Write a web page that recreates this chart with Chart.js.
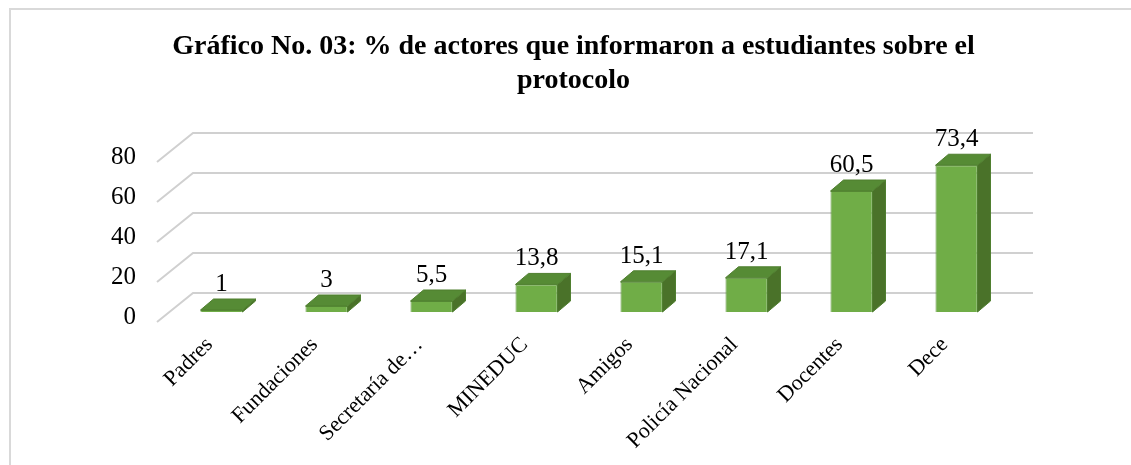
<!DOCTYPE html>
<html>
<head>
<meta charset="utf-8">
<script src="https://cdn.jsdelivr.net/npm/chart.js@4.4.0/dist/chart.umd.min.js"></script>
<style>
    html, body { margin: 0; padding: 0; background: #fff; }
    #wrap { position: relative; width: 1131px; height: 465px; overflow: hidden; }
    #frame {
        position: absolute; left: 9px; top: 8px;
        width: 1200px; height: 600px;
        border: 2px solid #d9d9d9; box-sizing: border-box;
    }
    #chart { position: absolute; left: 0; top: 0; }
</style>
</head>
<body>
<div id="wrap">
    <div id="frame"></div>
    <canvas id="chart" width="1131" height="465"></canvas>
</div>
<script>
/* ========================================
   Gráfico No. 03 - 3D bar chart look
   ======================================== */

const titleLines = ['Gráfico No. 03: % de actores que informaron a estudiantes sobre el', 'protocolo'];
const categories = ['Padres', 'Fundaciones', 'Secretaría de…', 'MINEDUC', 'Amigos', 'Policía Nacional', 'Docentes', 'Dece'];
const values = [1, 3, 5.5, 13.8, 15.1, 17.1, 60.5, 73.4];
const valueLabels = ['1', '3', '5,5', '13,8', '15,1', '17,1', '60,5', '73,4'];
const yTicks = [0, 20, 40, 60, 80];

const SERIF = '"Liberation Serif", "Times New Roman", serif';

// depth offsets (px) for the fake 3D walls and bar faces
const WALL_FRONT = { dx: -12, dy: 10 };
const WALL_BACK = { dx: 24, dy: -19 };
const BAR_DEPTH = { dx: 13, dy: -11 };

const threeD = {
    id: 'threeD',
    beforeDatasetsDraw(chart) {
        const { ctx, chartArea, scales } = chart;
        const y = scales.y;
        ctx.save();
        ctx.strokeStyle = '#d0d0d0';
        ctx.lineWidth = 2;
        yTicks.forEach(t => {
            const py = y.getPixelForValue(t);
            ctx.beginPath();
            ctx.moveTo(chartArea.left + WALL_FRONT.dx, py + WALL_FRONT.dy);
            ctx.lineTo(chartArea.left + WALL_BACK.dx, py + WALL_BACK.dy);
            ctx.lineTo(chartArea.right + WALL_BACK.dx, py + WALL_BACK.dy);
            ctx.stroke();
        });
        ctx.restore();
    },
    afterDatasetsDraw(chart) {
        const { ctx } = chart;
        const meta = chart.getDatasetMeta(0);
        ctx.save();
        ctx.lineWidth = 1;
        ctx.strokeStyle = '#4f7f2f';
        meta.data.forEach((bar, i) => {
            const l = bar.x - bar.width / 2;
            const r = bar.x + bar.width / 2;
            const top = bar.y;
            const base = bar.base;
            // side face
            ctx.fillStyle = '#4a7229';
            ctx.beginPath();
            ctx.moveTo(r, top);
            ctx.lineTo(r + BAR_DEPTH.dx, top + BAR_DEPTH.dy);
            ctx.lineTo(r + BAR_DEPTH.dx, base + BAR_DEPTH.dy);
            ctx.lineTo(r, base);
            ctx.closePath();
            ctx.fill();
            ctx.stroke();
            // top face
            ctx.fillStyle = '#568b35';
            ctx.beginPath();
            ctx.moveTo(l, top);
            ctx.lineTo(l + BAR_DEPTH.dx, top + BAR_DEPTH.dy);
            ctx.lineTo(r + BAR_DEPTH.dx, top + BAR_DEPTH.dy);
            ctx.lineTo(r, top);
            ctx.closePath();
            ctx.fill();
            ctx.stroke();
            // value label
            ctx.fillStyle = '#000';
            ctx.font = '25px ' + SERIF;
            ctx.textAlign = 'center';
            ctx.textBaseline = 'alphabetic';
            ctx.fillText(valueLabels[i], bar.x, top - 19);
        });
        ctx.restore();
    }
};

new Chart(document.getElementById('chart'), {
    type: 'bar',
    data: {
        labels: categories,
        datasets: [{
            data: values,
            backgroundColor: '#70ad47',
            borderColor: '#5b9139',
            borderWidth: 1,
            barPercentage: 0.4,
            categoryPercentage: 1
        }]
    },
    options: {
        responsive: false,
        animation: false,
        layout: { padding: { left: 16, right: 0, top: 0, bottom: 0 } },
        plugins: {
            legend: { display: false },
            tooltip: { enabled: false },
            title: {
                display: true,
                text: titleLines,
                color: '#000',
                font: { family: SERIF, size: 28, weight: 'bold', lineHeight: 1.215 },
                padding: { top: 30, bottom: 54 }
            }
        },
        scales: {
            x: {
                grid: { display: false, drawTicks: false },
                border: { display: false },
                ticks: {
                    color: '#000',
                    font: { family: SERIF, size: 22 },
                    minRotation: 45,
                    maxRotation: 45,
                    autoSkip: false,
                    padding: 20,
                    labelOffset: -12
                },
                afterFit: s => { s.height = 153; }
            },
            y: {
                min: 0,
                max: 80,
                grid: { display: false, drawTicks: false },
                border: { display: false },
                ticks: {
                    stepSize: 20,
                    color: '#000',
                    font: { family: SERIF, size: 25 },
                    padding: 33,
                    labelOffset: 5
                },
                afterFit: s => { s.width = 153; }
            },
            yRight: {
                position: 'right',
                display: true,
                grid: { display: false, drawTicks: false },
                border: { display: false },
                ticks: { display: false },
                afterFit: s => { s.width = 122; }
            }
        }
    },
    plugins: [threeD]
});
</script>
</body>
</html>
